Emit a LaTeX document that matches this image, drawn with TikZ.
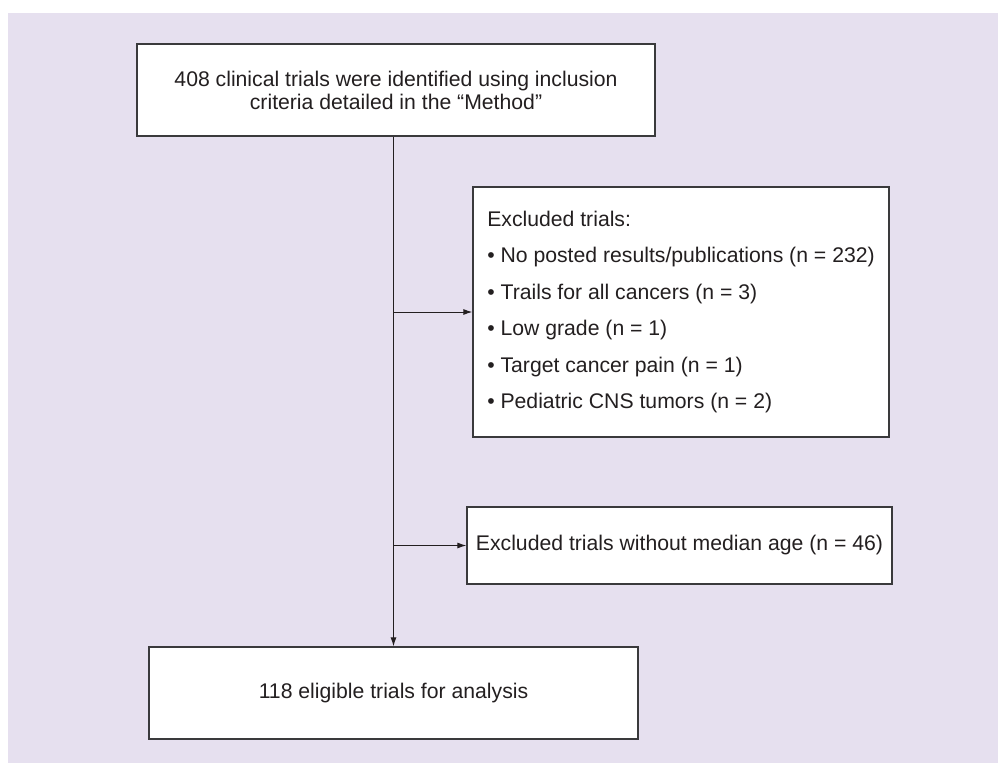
\documentclass[tikz,border=0pt]{standalone}
\usepackage{fontspec}
\setmainfont{Liberation Sans}
\usepackage{xcolor}
\usetikzlibrary{positioning, arrows.meta}

\definecolor{bgpanel}{HTML}{E6E0EF}
\definecolor{inkgray}{HTML}{231F20}
\definecolor{edgegray}{HTML}{3A3A3C}

\tikzset{
  flowbox/.style={draw=edgegray, line width=1.3pt, fill=white, text=inkgray,
    inner sep=0pt, align=center, font=\fontsize{21.2}{23}\selectfont},
  flowline/.style={draw=inkgray, line width=1pt},
  flowarrow/.style={flowline, -{Latex[length=9pt, width=6pt]}}
}

\begin{document}
\begin{tikzpicture}[x=1pt, y=-1pt]
\useasboundingbox (0,0) rectangle (1006,763);
\fill [bgpanel] (8,13) rectangle (998,763);

\node [flowbox, minimum width=518pt, minimum height=92pt] (ident) at (396,90)
  {408 clinical trials were identified using inclusion\\criteria detailed in the ``Method''};
\node [flowbox, minimum width=416pt, minimum height=250pt, align=left] (excl) at (681,312)
  {Excluded trials:\\[13.5pt]
   \textbullet\ No posted results/publications (n = 232)\\[13.5pt]
   \textbullet\ Trails for all cancers (n = 3)\\[13.5pt]
   \textbullet\ Low grade (n = 1)\\[13.5pt]
   \textbullet\ Target cancer pain (n = 1)\\[13.5pt]
   \textbullet\ Pediatric CNS tumors (n = 2)};
\node [flowbox, minimum width=425pt, minimum height=77pt] (noage) at (679.5,545.5)
  {Excluded trials without median age (n = 46)};
\node [flowbox, minimum width=489pt, minimum height=92pt] (final) at (393.5,693)
  {118 eligible trials for analysis};

% main flow and the two exclusions
\draw [flowarrow] (ident.south -| final.north) -- (final.north);
\draw [flowarrow] (final.north |- excl.west) -- (excl.west);
\draw [flowarrow] (final.north |- noage.west) -- (noage.west);
\end{tikzpicture}
\end{document}
